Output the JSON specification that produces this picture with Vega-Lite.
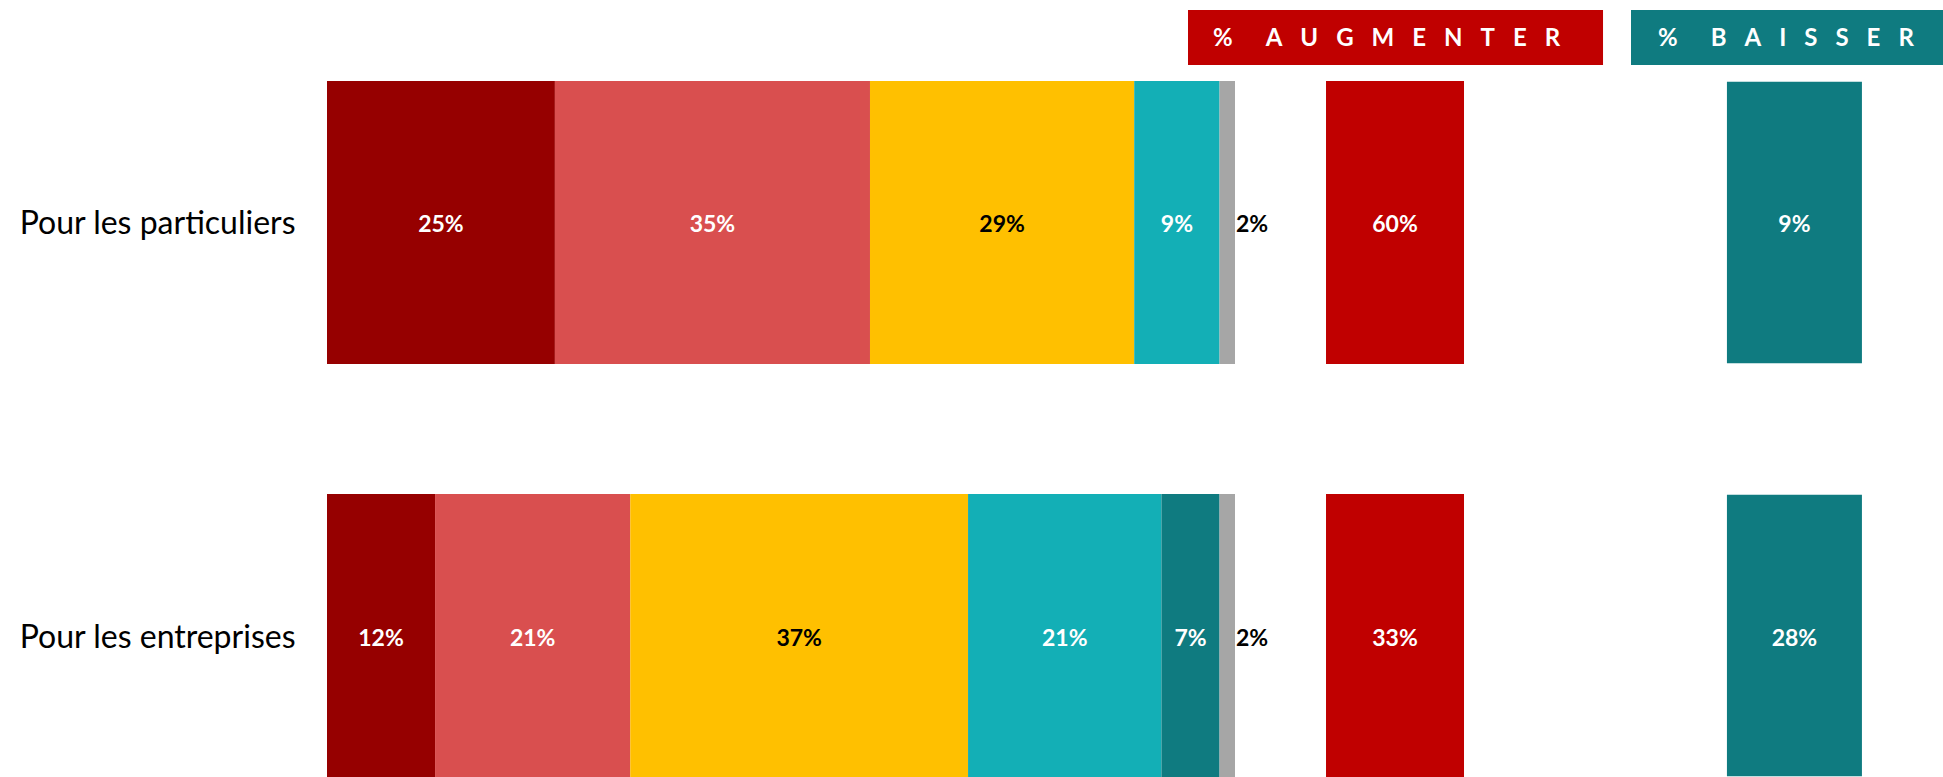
{
  "$schema": "https://vega.github.io/schema/vega-lite/v6.json",
  "background": "white",
  "padding": {"left": 18, "top": 10, "right": 0, "bottom": 0},
  "config": {"view": {"stroke": null}, "font": "Lato"},
  "datasets": {
    "dist": [
      {"row": "Pour les particuliers", "cat": "Augmenter fortement", "ord": 1, "value": 25.1, "label": "25%"},
      {"row": "Pour les particuliers", "cat": "Augmenter légèrement", "ord": 2, "value": 34.7, "label": "35%"},
      {"row": "Pour les particuliers", "cat": "Rester stable", "ord": 3, "value": 29.1, "label": "29%"},
      {"row": "Pour les particuliers", "cat": "Baisser légèrement", "ord": 4, "value": 9.4, "label": "9%"},
      {"row": "Pour les particuliers", "cat": "Ne sait pas", "ord": 6, "value": 1.7, "label": "2%"},
      {"row": "Pour les entreprises", "cat": "Augmenter fortement", "ord": 1, "value": 11.9, "label": "12%"},
      {"row": "Pour les entreprises", "cat": "Augmenter légèrement", "ord": 2, "value": 21.5, "label": "21%"},
      {"row": "Pour les entreprises", "cat": "Rester stable", "ord": 3, "value": 37.2, "label": "37%"},
      {"row": "Pour les entreprises", "cat": "Baisser légèrement", "ord": 4, "value": 21.3, "label": "21%"},
      {"row": "Pour les entreprises", "cat": "Baisser fortement", "ord": 5, "value": 6.4, "label": "7%"},
      {"row": "Pour les entreprises", "cat": "Ne sait pas", "ord": 6, "value": 1.7, "label": "2%"}
    ],
    "aug": [
      {"row": "Pour les particuliers", "col": "% AUGMENTER", "value": 60, "label": "60%"},
      {"row": "Pour les entreprises", "col": "% AUGMENTER", "value": 33, "label": "33%"}
    ],
    "bai": [
      {"row": "Pour les particuliers", "col": "% BAISSER", "value": 9, "label": "9%"},
      {"row": "Pour les entreprises", "col": "% BAISSER", "value": 28, "label": "28%"}
    ],
    "hdrAug": [{"col": "% AUGMENTER", "title": "%\u2003\u2002\u2009A\u2002\u2005U\u2002\u2005G\u2002\u2005M\u2002\u2005E\u2002\u2005N\u2002\u2005T\u2002\u2005E\u2002\u2005R"}],
    "hdrBai": [{"col": "% BAISSER", "title": "%\u2003\u2002\u2009B\u2002\u2005A\u2002\u2005I\u2002\u2005S\u2002\u2005S\u2002\u2005E\u2002\u2005R"}]
  },
  "bounds": "flush",
  "columns": 3,
  "spacing": {"row": 16, "column": 0},
  "concat": [
    {
      "width": 861,
      "height": 55,
      "data": {"values": [{"blank": ""}]},
      "mark": {"type": "text", "opacity": 0},
      "encoding": {"text": {"field": "blank"}}
    },
    {
      "width": 443,
      "height": 55,
      "data": {"name": "hdrAug"},
      "encoding": {"x": {"field": "col", "type": "nominal", "scale": {"paddingInner": 0, "paddingOuter": 0.0337, "align": 0}, "axis": null}},
      "layer": [
        {"mark": {"type": "bar", "color": "#C00000"}},
        {
          "mark": {"type": "text", "font": "Lato", "fontWeight": "bold", "fontSize": 24, "align": "left", "dx": 25, "dy": 1, "color": "#ffffff"},
          "encoding": {"x": {"field": "col", "type": "nominal", "bandPosition": 0}, "text": {"field": "title"}}
        }
      ]
    },
    {
      "width": 312,
      "height": 55,
      "data": {"name": "hdrBai"},
      "encoding": {"x": {"field": "col", "type": "nominal", "scale": {"paddingInner": 0, "paddingOuter": 0}, "axis": null}},
      "layer": [
        {"mark": {"type": "bar", "color": "#0F7B80"}},
        {
          "mark": {"type": "text", "font": "Lato", "fontWeight": "bold", "fontSize": 24, "align": "left", "dx": 27, "dy": 1, "color": "#ffffff"},
          "encoding": {"x": {"field": "col", "type": "nominal", "bandPosition": 0}, "text": {"field": "title"}}
        }
      ]
    },
    {
      "width": 861,
      "height": 696,
      "data": {"name": "dist"},
      "encoding": {
        "y": {
          "field": "row",
          "type": "nominal",
          "sort": ["Pour les particuliers", "Pour les entreprises"],
          "scale": {"paddingInner": 0.3148, "paddingOuter": 0},
          "axis": {"title": null, "domain": false, "ticks": false, "tickSize": 0, "labelPadding": 32, "labelFontSize": 32, "labelFont": "Lato", "labelColor": "#000000", "labelLimit": 600, "labelOffset": 2}
        },
        "x": {"field": "value", "type": "quantitative", "stack": "zero", "scale": {"domain": [0, 100], "range": [0, 908]}, "axis": null},
        "order": {"field": "ord", "type": "quantitative"}
      },
      "layer": [
        {
          "mark": {"type": "bar"},
          "encoding": {
            "color": {
              "field": "cat",
              "type": "nominal",
              "scale": {
                "domain": ["Augmenter fortement", "Augmenter légèrement", "Rester stable", "Baisser légèrement", "Baisser fortement", "Ne sait pas"],
                "range": ["#960000", "#D94F4F", "#FFC000", "#13AFB6", "#0F7B80", "#A6A6A6"]
              },
              "legend": null
            }
          }
        },
        {
          "mark": {"type": "text", "font": "Lato", "fontWeight": "bold", "fontSize": 23, "dy": 3},
          "encoding": {
            "detail": {"field": "cat", "type": "nominal"},
            "x": {"field": "value", "type": "quantitative", "stack": "zero", "bandPosition": 0.5},
            "text": {"condition": {"test": "datum.cat !== 'Ne sait pas'", "field": "label"}, "value": ""},
            "color": {"condition": {"test": "datum.cat === 'Rester stable'", "value": "#000000"}, "value": "#ffffff"}
          }
        },
        {
          "mark": {"type": "text", "font": "Lato", "fontWeight": "bold", "fontSize": 23, "align": "left", "dx": 1, "dy": 3, "color": "#000000"},
          "encoding": {
            "detail": {"field": "cat", "type": "nominal"},
            "x": {"field": "value", "type": "quantitative", "stack": "zero", "bandPosition": 1},
            "text": {"condition": {"test": "datum.cat === 'Ne sait pas'", "field": "label"}, "value": ""}
          }
        }
      ]
    },
    {
      "width": 443,
      "height": 696,
      "data": {"name": "aug"},
      "encoding": {
        "y": {"field": "row", "type": "nominal", "sort": ["Pour les particuliers", "Pour les entreprises"], "scale": {"paddingInner": 0.3148, "paddingOuter": 0}, "axis": null},
        "x": {"field": "col", "type": "nominal", "scale": {"paddingInner": 0.0951, "paddingOuter": 1, "align": 0.4525}, "axis": null}
      },
      "layer": [
        {"mark": {"type": "bar", "color": "#C00000"}},
        {"mark": {"type": "text", "font": "Lato", "fontWeight": "bold", "fontSize": 23, "dy": 3, "color": "#ffffff"}, "encoding": {"text": {"field": "label"}}}
      ]
    },
    {
      "width": 312,
      "height": 696,
      "data": {"name": "bai"},
      "encoding": {
        "y": {"field": "row", "type": "nominal", "sort": ["Pour les particuliers", "Pour les entreprises"], "scale": {"paddingInner": 0.3188, "paddingOuter": 0.002}, "axis": null},
        "x": {"field": "col", "type": "nominal", "scale": {"paddingInner": 0, "paddingOuter": 0.6556, "align": 0.542}, "axis": null}
      },
      "layer": [
        {"mark": {"type": "bar", "color": "#0F7B80"}},
        {"mark": {"type": "text", "font": "Lato", "fontWeight": "bold", "fontSize": 23, "dy": 3, "color": "#ffffff"}, "encoding": {"text": {"field": "label"}}}
      ]
    }
  ]
}
